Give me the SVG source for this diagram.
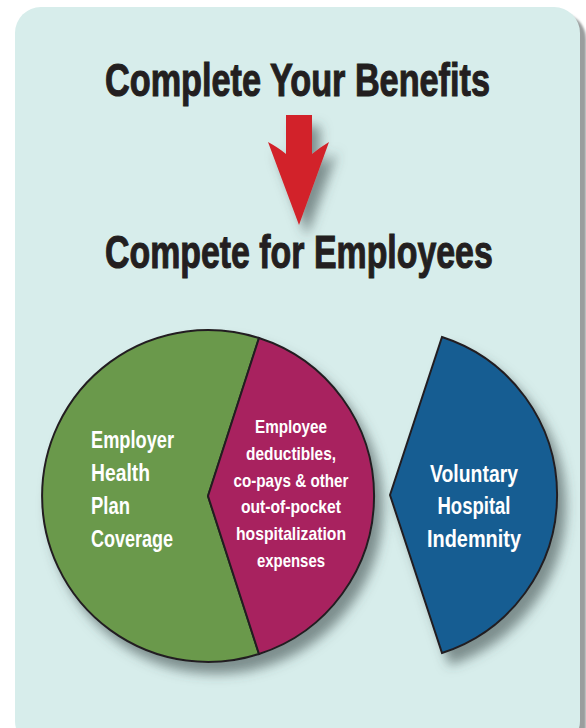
<svg xmlns="http://www.w3.org/2000/svg" width="586" height="728" viewBox="0 0 586 728">
  <defs>
    <filter id="shadow" x="-20%" y="-20%" width="150%" height="150%">
      <feDropShadow dx="8" dy="11" stdDeviation="6" flood-color="#3f4f4f" flood-opacity="0.6"/>
    </filter>
    <filter id="panelShadow" x="-5%" y="-5%" width="110%" height="110%">
      <feGaussianBlur stdDeviation="1.2"/>
    </filter>
  </defs>
  <style>
    .title { font-family: "Liberation Sans", Arial, sans-serif; font-weight: bold; font-size: 46px; fill: #231f20; stroke: #231f20; stroke-width: 1.1px; }
    .lbl { font-family: "Liberation Sans", Arial, sans-serif; font-weight: bold; fill: #ffffff; }
    .big { font-size: 23px; }
    .small { font-size: 19px; }
    .edge { stroke: #231f20; stroke-width: 2; stroke-linejoin: miter; }
  </style>
  <rect width="586" height="728" fill="#ffffff"/>
  <!-- panel -->
  <rect x="20" y="13" width="566" height="740" rx="26" fill="#9a9e9e" filter="url(#panelShadow)"/>
  <rect x="15" y="7" width="565" height="740" rx="26" fill="#d7edeb"/>

  <g id="title1" transform="scale(0.7,1)">
    <text class="title" x="150" y="96" textLength="550" lengthAdjust="spacingAndGlyphs">Complete Your Benefits</text>
  </g>
  <g id="arrow" filter="url(#shadow)">
    <path d="M286,115 L312,115 L312,154 Q319,148 329,142 L299,225 L268,142 Q279,148 286,154 Z" fill="#d2232a"/>
  </g>
  <g id="title2" transform="scale(0.7,1)">
    <text class="title" x="150" y="268" textLength="554" lengthAdjust="spacingAndGlyphs">Compete for Employees</text>
  </g>

  <g id="pie" filter="url(#shadow)">
    <g id="employer">
      <path class="edge" d="M208,496 L259,338 A166,166 0 1,0 259,654 Z" fill="#6a994b"/>
    </g>
    <g id="employee">
      <path class="edge" d="M208,496 L259,338 A166,166 0 0,1 259,654 Z" fill="#a8245f"/>
    </g>
  </g>
  <g id="voluntary" filter="url(#shadow)">
    <path class="edge" d="M390,495 L442,337 A166,166 0 0,1 442,653 Z" fill="#175d92"/>
  </g>

  <g id="employer-text">
    <text class="lbl big" x="91" y="448" textLength="83" lengthAdjust="spacingAndGlyphs">Employer</text>
    <text class="lbl big" x="91" y="481" textLength="59" lengthAdjust="spacingAndGlyphs">Health</text>
    <text class="lbl big" x="91" y="514" textLength="39" lengthAdjust="spacingAndGlyphs">Plan</text>
    <text class="lbl big" x="91" y="547" textLength="82" lengthAdjust="spacingAndGlyphs">Coverage</text>
  </g>
  <g id="employee-text" text-anchor="middle">
    <text class="lbl small" x="291" y="433" textLength="72" lengthAdjust="spacingAndGlyphs">Employee</text>
    <text class="lbl small" x="291" y="460" textLength="90" lengthAdjust="spacingAndGlyphs">deductibles,</text>
    <text class="lbl small" x="291" y="487" textLength="115" lengthAdjust="spacingAndGlyphs">co-pays &amp; other</text>
    <text class="lbl small" x="291" y="513" textLength="100" lengthAdjust="spacingAndGlyphs">out-of-pocket</text>
    <text class="lbl small" x="291" y="540" textLength="110" lengthAdjust="spacingAndGlyphs">hospitalization</text>
    <text class="lbl small" x="291" y="567" textLength="68" lengthAdjust="spacingAndGlyphs">expenses</text>
  </g>
  <g id="voluntary-text" text-anchor="middle">
    <text class="lbl big" x="474" y="482" textLength="88" lengthAdjust="spacingAndGlyphs">Voluntary</text>
    <text class="lbl big" x="474" y="514" textLength="73" lengthAdjust="spacingAndGlyphs">Hospital</text>
    <text class="lbl big" x="474" y="547" textLength="94" lengthAdjust="spacingAndGlyphs">Indemnity</text>
  </g>
</svg>
